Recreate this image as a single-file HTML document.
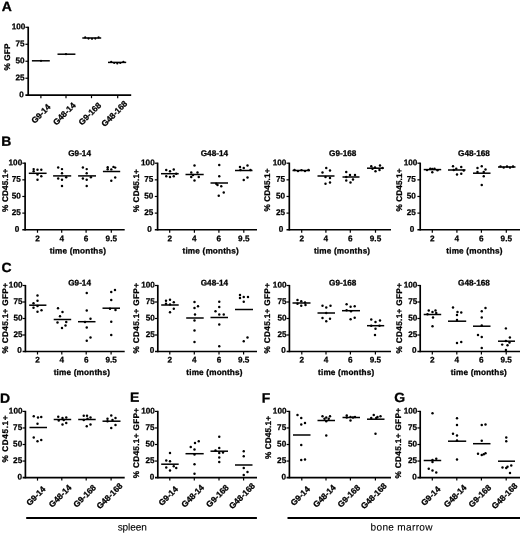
<!DOCTYPE html>
<html lang="en"><head><meta charset="utf-8"><title>Figure</title>
<style>
html,body{margin:0;padding:0;background:#fff;}
body{width:520px;height:533px;overflow:hidden;}
svg{display:block;}
text{font-family:"Liberation Sans", sans-serif;text-rendering:geometricPrecision;fill:#000;stroke:#000;stroke-width:0.3px;stroke-linejoin:round;}
.tk{font-size:8.2px;font-weight:bold;stroke-width:0.25px;}
.yl{font-size:8.2px;font-weight:bold;letter-spacing:0.12px;}
.yl3{font-size:8.2px;font-weight:bold;letter-spacing:0.6px;}
.yl2{font-size:8.2px;font-weight:bold;letter-spacing:0.34px;}
.xt{font-size:8.2px;font-weight:bold;letter-spacing:0.17px;}
.tt{font-size:8.2px;font-weight:bold;}
.xr{font-size:8.4px;font-weight:bold;}
.bt{font-size:10.1px;stroke-width:0.1px;}
.pl{font-size:13.3px;font-weight:bold;stroke-width:0.3px;}
</style></head>
<body>
<svg width="520" height="533" viewBox="0 0 520 533">
<rect width="520" height="533" fill="#fff"/>
<line x1="28.2" y1="26.7" x2="28.2" y2="95.95" stroke="#000" stroke-width="1.7"/>
<line x1="25.4" y1="95.2" x2="131.2" y2="95.2" stroke="#000" stroke-width="1.7"/>
<line x1="25.4" y1="27.30" x2="28.2" y2="27.30" stroke="#000" stroke-width="1.2"/>
<text transform="translate(25.30,29.30) rotate(0.04)" text-anchor="end" class="tk">100</text>
<line x1="25.4" y1="44.28" x2="28.2" y2="44.28" stroke="#000" stroke-width="1.2"/>
<text transform="translate(24.60,46.28) rotate(0.04)" text-anchor="end" class="tk">75</text>
<line x1="25.4" y1="61.25" x2="28.2" y2="61.25" stroke="#000" stroke-width="1.2"/>
<text transform="translate(24.60,63.25) rotate(0.04)" text-anchor="end" class="tk">50</text>
<line x1="25.4" y1="78.23" x2="28.2" y2="78.23" stroke="#000" stroke-width="1.2"/>
<text transform="translate(24.60,80.23) rotate(0.04)" text-anchor="end" class="tk">25</text>
<text transform="translate(23.90,97.20) rotate(0.04)" text-anchor="end" class="tk">0</text>
<line x1="40.9" y1="95.2" x2="40.9" y2="98.2" stroke="#000" stroke-width="1.2"/>
<line x1="66" y1="95.2" x2="66" y2="98.2" stroke="#000" stroke-width="1.2"/>
<line x1="91.5" y1="95.2" x2="91.5" y2="98.2" stroke="#000" stroke-width="1.2"/>
<line x1="117.7" y1="95.2" x2="117.7" y2="98.2" stroke="#000" stroke-width="1.2"/>
<line x1="31.9" y1="60.8" x2="49.8" y2="60.8" stroke="#000" stroke-width="1.5"/>
<circle cx="41.00" cy="60.80" r="1.1"/>
<line x1="57.5" y1="54.2" x2="75.4" y2="54.2" stroke="#000" stroke-width="1.5"/>
<circle cx="66.00" cy="54.20" r="1.1"/>
<line x1="82.3" y1="38.0" x2="101.2" y2="38.0" stroke="#000" stroke-width="1.5"/>
<circle cx="85.20" cy="37.40" r="1.1"/>
<circle cx="88.50" cy="38.60" r="1.1"/>
<circle cx="92.00" cy="38.80" r="1.1"/>
<circle cx="95.30" cy="38.60" r="1.1"/>
<circle cx="98.60" cy="37.40" r="1.1"/>
<line x1="108" y1="62.4" x2="126.2" y2="62.4" stroke="#000" stroke-width="1.5"/>
<circle cx="111.20" cy="61.80" r="1.1"/>
<circle cx="114.20" cy="63.00" r="1.1"/>
<circle cx="117.30" cy="63.50" r="1.1"/>
<circle cx="120.30" cy="63.00" r="1.1"/>
<circle cx="123.40" cy="61.80" r="1.1"/>
<text transform="translate(9.7,57.0) rotate(-90)" text-anchor="middle" class="yl">% GFP</text>
<text transform="translate(51.10,107.57) rotate(-45)" text-anchor="end" class="xr">G9-14</text>
<text transform="translate(76.20,105.92) rotate(-45)" text-anchor="end" class="xr">G48-14</text>
<text transform="translate(101.70,105.92) rotate(-45)" text-anchor="end" class="xr">G9-168</text>
<text transform="translate(127.90,104.27) rotate(-45)" text-anchor="end" class="xr">G48-168</text>
<line x1="25.1" y1="162.6" x2="25.1" y2="230.5" stroke="#000" stroke-width="1.7"/>
<line x1="22.3" y1="229.75" x2="124.7" y2="229.75" stroke="#000" stroke-width="1.7"/>
<line x1="22.3" y1="163.20" x2="25.1" y2="163.20" stroke="#000" stroke-width="1.2"/>
<text transform="translate(22.20,165.20) rotate(0.04)" text-anchor="end" class="tk">100</text>
<line x1="22.3" y1="179.84" x2="25.1" y2="179.84" stroke="#000" stroke-width="1.2"/>
<text transform="translate(20.80,181.84) rotate(0.04)" text-anchor="end" class="tk">75</text>
<line x1="22.3" y1="196.47" x2="25.1" y2="196.47" stroke="#000" stroke-width="1.2"/>
<text transform="translate(20.80,198.47) rotate(0.04)" text-anchor="end" class="tk">50</text>
<line x1="22.3" y1="213.11" x2="25.1" y2="213.11" stroke="#000" stroke-width="1.2"/>
<text transform="translate(20.80,215.11) rotate(0.04)" text-anchor="end" class="tk">25</text>
<text transform="translate(19.20,231.75) rotate(0.04)" text-anchor="end" class="tk">0</text>
<line x1="37.5" y1="229.75" x2="37.5" y2="232.75" stroke="#000" stroke-width="1.2"/>
<line x1="61.7" y1="229.75" x2="61.7" y2="232.75" stroke="#000" stroke-width="1.2"/>
<line x1="86.1" y1="229.75" x2="86.1" y2="232.75" stroke="#000" stroke-width="1.2"/>
<line x1="111.3" y1="229.75" x2="111.3" y2="232.75" stroke="#000" stroke-width="1.2"/>
<line x1="28.8" y1="173.3" x2="46.6" y2="173.3" stroke="#000" stroke-width="1.5"/>
<circle cx="33.65" cy="169.10" r="1.22"/>
<circle cx="33.65" cy="171.20" r="1.22"/>
<circle cx="37.50" cy="169.80" r="1.22"/>
<circle cx="41.30" cy="169.80" r="1.22"/>
<circle cx="37.50" cy="174.60" r="1.22"/>
<circle cx="41.30" cy="176.20" r="1.22"/>
<circle cx="37.50" cy="179.70" r="1.22"/>
<line x1="53.1" y1="175.9" x2="71.2" y2="175.9" stroke="#000" stroke-width="1.5"/>
<circle cx="58.20" cy="167.50" r="1.22"/>
<circle cx="62.00" cy="169.10" r="1.22"/>
<circle cx="62.00" cy="173.30" r="1.22"/>
<circle cx="58.20" cy="178.50" r="1.22"/>
<circle cx="62.00" cy="179.70" r="1.22"/>
<circle cx="66.20" cy="177.30" r="1.22"/>
<circle cx="62.00" cy="186.00" r="1.22"/>
<line x1="78.1" y1="175.9" x2="96" y2="175.9" stroke="#000" stroke-width="1.5"/>
<circle cx="82.90" cy="167.50" r="1.22"/>
<circle cx="86.70" cy="169.10" r="1.22"/>
<circle cx="86.70" cy="173.30" r="1.22"/>
<circle cx="82.90" cy="178.50" r="1.22"/>
<circle cx="86.70" cy="179.70" r="1.22"/>
<circle cx="90.90" cy="177.30" r="1.22"/>
<circle cx="86.70" cy="186.00" r="1.22"/>
<line x1="102.9" y1="171.5" x2="120.2" y2="171.5" stroke="#000" stroke-width="1.5"/>
<circle cx="107.70" cy="167.20" r="1.22"/>
<circle cx="107.70" cy="169.20" r="1.22"/>
<circle cx="111.30" cy="169.40" r="1.22"/>
<circle cx="113.50" cy="166.90" r="1.22"/>
<circle cx="115.20" cy="167.60" r="1.22"/>
<circle cx="115.20" cy="177.50" r="1.22"/>
<circle cx="111.30" cy="180.70" r="1.22"/>
<text transform="translate(7.6,190.3) rotate(-90)" text-anchor="middle" class="yl">% CD45.1+</text>
<text transform="translate(79.6,156) rotate(0.04)" text-anchor="middle" class="tt">G9-14</text>
<text transform="translate(37.5,241.2) rotate(0.04)" text-anchor="middle" class="tk">2</text>
<text transform="translate(61.7,241.2) rotate(0.04)" text-anchor="middle" class="tk">4</text>
<text transform="translate(86.1,241.2) rotate(0.04)" text-anchor="middle" class="tk">6</text>
<text transform="translate(111.3,241.2) rotate(0.04)" text-anchor="middle" class="tk">9.5</text>
<text transform="translate(77.9,253.6) rotate(0.04)" text-anchor="middle" class="xt">time (months)</text>
<line x1="157.6" y1="162.6" x2="157.6" y2="230.5" stroke="#000" stroke-width="1.7"/>
<line x1="154.79999999999998" y1="229.75" x2="257" y2="229.75" stroke="#000" stroke-width="1.7"/>
<line x1="154.79999999999998" y1="163.20" x2="157.6" y2="163.20" stroke="#000" stroke-width="1.2"/>
<text transform="translate(154.70,165.20) rotate(0.04)" text-anchor="end" class="tk">100</text>
<line x1="154.79999999999998" y1="179.84" x2="157.6" y2="179.84" stroke="#000" stroke-width="1.2"/>
<text transform="translate(153.30,181.84) rotate(0.04)" text-anchor="end" class="tk">75</text>
<line x1="154.79999999999998" y1="196.47" x2="157.6" y2="196.47" stroke="#000" stroke-width="1.2"/>
<text transform="translate(153.30,198.47) rotate(0.04)" text-anchor="end" class="tk">50</text>
<line x1="154.79999999999998" y1="213.11" x2="157.6" y2="213.11" stroke="#000" stroke-width="1.2"/>
<text transform="translate(153.30,215.11) rotate(0.04)" text-anchor="end" class="tk">25</text>
<text transform="translate(151.70,231.75) rotate(0.04)" text-anchor="end" class="tk">0</text>
<line x1="169.7" y1="229.75" x2="169.7" y2="232.75" stroke="#000" stroke-width="1.2"/>
<line x1="194.4" y1="229.75" x2="194.4" y2="232.75" stroke="#000" stroke-width="1.2"/>
<line x1="218.9" y1="229.75" x2="218.9" y2="232.75" stroke="#000" stroke-width="1.2"/>
<line x1="243.8" y1="229.75" x2="243.8" y2="232.75" stroke="#000" stroke-width="1.2"/>
<line x1="161" y1="173.7" x2="178.7" y2="173.7" stroke="#000" stroke-width="1.5"/>
<circle cx="166.25" cy="170.00" r="1.22"/>
<circle cx="170.00" cy="171.25" r="1.22"/>
<circle cx="173.75" cy="169.50" r="1.22"/>
<circle cx="166.25" cy="176.25" r="1.22"/>
<circle cx="170.00" cy="177.00" r="1.22"/>
<circle cx="173.75" cy="176.25" r="1.22"/>
<circle cx="176.25" cy="173.75" r="1.22"/>
<line x1="185.5" y1="174.5" x2="203.7" y2="174.5" stroke="#000" stroke-width="1.5"/>
<circle cx="194.50" cy="165.50" r="1.22"/>
<circle cx="191.25" cy="172.50" r="1.22"/>
<circle cx="197.50" cy="172.50" r="1.22"/>
<circle cx="191.25" cy="177.00" r="1.22"/>
<circle cx="198.75" cy="177.00" r="1.22"/>
<circle cx="194.50" cy="180.50" r="1.22"/>
<circle cx="193.00" cy="175.00" r="1.22"/>
<line x1="210.5" y1="183" x2="228" y2="183" stroke="#000" stroke-width="1.5"/>
<circle cx="219.25" cy="165.00" r="1.22"/>
<circle cx="219.25" cy="176.25" r="1.22"/>
<circle cx="216.25" cy="183.75" r="1.22"/>
<circle cx="221.25" cy="186.25" r="1.22"/>
<circle cx="223.75" cy="192.50" r="1.22"/>
<circle cx="218.75" cy="195.75" r="1.22"/>
<circle cx="217.50" cy="185.00" r="1.22"/>
<line x1="235" y1="170.5" x2="252.5" y2="170.5" stroke="#000" stroke-width="1.5"/>
<circle cx="240.00" cy="167.00" r="1.22"/>
<circle cx="243.75" cy="168.00" r="1.22"/>
<circle cx="247.50" cy="165.50" r="1.22"/>
<circle cx="250.50" cy="170.00" r="1.22"/>
<circle cx="243.75" cy="180.00" r="1.22"/>
<circle cx="247.50" cy="177.50" r="1.22"/>
<circle cx="240.50" cy="170.00" r="1.22"/>
<text transform="translate(139,190.6) rotate(-90)" text-anchor="middle" class="yl">% CD45.1+</text>
<text transform="translate(214.4,156) rotate(0.04)" text-anchor="middle" class="tt">G48-14</text>
<text transform="translate(169.7,241.2) rotate(0.04)" text-anchor="middle" class="tk">2</text>
<text transform="translate(194.4,241.2) rotate(0.04)" text-anchor="middle" class="tk">4</text>
<text transform="translate(218.9,241.2) rotate(0.04)" text-anchor="middle" class="tk">6</text>
<text transform="translate(243.8,241.2) rotate(0.04)" text-anchor="middle" class="tk">9.5</text>
<text transform="translate(210.7,253.6) rotate(0.04)" text-anchor="middle" class="xt">time (months)</text>
<line x1="289.3" y1="162.6" x2="289.3" y2="230.5" stroke="#000" stroke-width="1.7"/>
<line x1="286.5" y1="229.75" x2="391" y2="229.75" stroke="#000" stroke-width="1.7"/>
<line x1="286.5" y1="163.20" x2="289.3" y2="163.20" stroke="#000" stroke-width="1.2"/>
<text transform="translate(286.40,165.20) rotate(0.04)" text-anchor="end" class="tk">100</text>
<line x1="286.5" y1="179.84" x2="289.3" y2="179.84" stroke="#000" stroke-width="1.2"/>
<text transform="translate(285.00,181.84) rotate(0.04)" text-anchor="end" class="tk">75</text>
<line x1="286.5" y1="196.47" x2="289.3" y2="196.47" stroke="#000" stroke-width="1.2"/>
<text transform="translate(285.00,198.47) rotate(0.04)" text-anchor="end" class="tk">50</text>
<line x1="286.5" y1="213.11" x2="289.3" y2="213.11" stroke="#000" stroke-width="1.2"/>
<text transform="translate(285.00,215.11) rotate(0.04)" text-anchor="end" class="tk">25</text>
<text transform="translate(283.40,231.75) rotate(0.04)" text-anchor="end" class="tk">0</text>
<line x1="301.7" y1="229.75" x2="301.7" y2="232.75" stroke="#000" stroke-width="1.2"/>
<line x1="325.9" y1="229.75" x2="325.9" y2="232.75" stroke="#000" stroke-width="1.2"/>
<line x1="350.3" y1="229.75" x2="350.3" y2="232.75" stroke="#000" stroke-width="1.2"/>
<line x1="375.5" y1="229.75" x2="375.5" y2="232.75" stroke="#000" stroke-width="1.2"/>
<line x1="292.5" y1="170.5" x2="310" y2="170.5" stroke="#000" stroke-width="1.5"/>
<circle cx="294.50" cy="170.00" r="1.22"/>
<circle cx="298.00" cy="171.10" r="1.22"/>
<circle cx="301.50" cy="170.10" r="1.22"/>
<circle cx="305.00" cy="171.10" r="1.22"/>
<circle cx="308.50" cy="170.00" r="1.22"/>
<line x1="317.5" y1="176" x2="334.5" y2="176" stroke="#000" stroke-width="1.5"/>
<circle cx="326.25" cy="168.00" r="1.22"/>
<circle cx="330.00" cy="170.50" r="1.22"/>
<circle cx="322.50" cy="172.50" r="1.22"/>
<circle cx="325.50" cy="177.00" r="1.22"/>
<circle cx="330.00" cy="178.00" r="1.22"/>
<circle cx="325.50" cy="183.75" r="1.22"/>
<circle cx="330.00" cy="182.50" r="1.22"/>
<line x1="342.5" y1="177" x2="359.5" y2="177" stroke="#000" stroke-width="1.5"/>
<circle cx="346.25" cy="172.00" r="1.22"/>
<circle cx="350.00" cy="175.00" r="1.22"/>
<circle cx="355.00" cy="175.00" r="1.22"/>
<circle cx="346.25" cy="177.00" r="1.22"/>
<circle cx="353.00" cy="179.50" r="1.22"/>
<circle cx="346.25" cy="180.50" r="1.22"/>
<circle cx="350.50" cy="182.50" r="1.22"/>
<line x1="367" y1="168.2" x2="383.7" y2="168.2" stroke="#000" stroke-width="1.5"/>
<circle cx="371.25" cy="166.25" r="1.22"/>
<circle cx="375.00" cy="167.50" r="1.22"/>
<circle cx="380.00" cy="165.50" r="1.22"/>
<circle cx="382.50" cy="168.00" r="1.22"/>
<circle cx="375.50" cy="171.25" r="1.22"/>
<circle cx="379.50" cy="170.00" r="1.22"/>
<circle cx="372.50" cy="168.75" r="1.22"/>
<text transform="translate(269.8,190.0) rotate(-90)" text-anchor="middle" class="yl">% CD45.1+</text>
<text transform="translate(342.7,156) rotate(0.04)" text-anchor="middle" class="tt">G9-168</text>
<text transform="translate(301.7,241.2) rotate(0.04)" text-anchor="middle" class="tk">2</text>
<text transform="translate(325.9,241.2) rotate(0.04)" text-anchor="middle" class="tk">4</text>
<text transform="translate(350.3,241.2) rotate(0.04)" text-anchor="middle" class="tk">6</text>
<text transform="translate(375.5,241.2) rotate(0.04)" text-anchor="middle" class="tk">9.5</text>
<text transform="translate(342.1,253.6) rotate(0.04)" text-anchor="middle" class="xt">time (months)</text>
<line x1="420.2" y1="162.6" x2="420.2" y2="230.5" stroke="#000" stroke-width="1.7"/>
<line x1="417.4" y1="229.75" x2="521" y2="229.75" stroke="#000" stroke-width="1.7"/>
<line x1="417.4" y1="163.20" x2="420.2" y2="163.20" stroke="#000" stroke-width="1.2"/>
<text transform="translate(417.30,165.20) rotate(0.04)" text-anchor="end" class="tk">100</text>
<line x1="417.4" y1="179.84" x2="420.2" y2="179.84" stroke="#000" stroke-width="1.2"/>
<text transform="translate(415.90,181.84) rotate(0.04)" text-anchor="end" class="tk">75</text>
<line x1="417.4" y1="196.47" x2="420.2" y2="196.47" stroke="#000" stroke-width="1.2"/>
<text transform="translate(415.90,198.47) rotate(0.04)" text-anchor="end" class="tk">50</text>
<line x1="417.4" y1="213.11" x2="420.2" y2="213.11" stroke="#000" stroke-width="1.2"/>
<text transform="translate(415.90,215.11) rotate(0.04)" text-anchor="end" class="tk">25</text>
<text transform="translate(414.30,231.75) rotate(0.04)" text-anchor="end" class="tk">0</text>
<line x1="432.3" y1="229.75" x2="432.3" y2="232.75" stroke="#000" stroke-width="1.2"/>
<line x1="456.9" y1="229.75" x2="456.9" y2="232.75" stroke="#000" stroke-width="1.2"/>
<line x1="481.4" y1="229.75" x2="481.4" y2="232.75" stroke="#000" stroke-width="1.2"/>
<line x1="506.3" y1="229.75" x2="506.3" y2="232.75" stroke="#000" stroke-width="1.2"/>
<line x1="423.7" y1="169.6" x2="441.2" y2="169.6" stroke="#000" stroke-width="1.5"/>
<circle cx="427.00" cy="170.10" r="1.22"/>
<circle cx="430.30" cy="168.60" r="1.22"/>
<circle cx="432.30" cy="172.30" r="1.22"/>
<circle cx="434.50" cy="168.80" r="1.22"/>
<circle cx="437.50" cy="170.30" r="1.22"/>
<circle cx="432.30" cy="168.90" r="1.22"/>
<line x1="448" y1="170" x2="465.5" y2="170" stroke="#000" stroke-width="1.5"/>
<circle cx="453.00" cy="166.25" r="1.22"/>
<circle cx="456.25" cy="168.75" r="1.22"/>
<circle cx="461.25" cy="167.00" r="1.22"/>
<circle cx="453.75" cy="170.00" r="1.22"/>
<circle cx="463.75" cy="170.50" r="1.22"/>
<circle cx="457.00" cy="174.50" r="1.22"/>
<circle cx="461.25" cy="173.75" r="1.22"/>
<line x1="473" y1="173.2" x2="490.5" y2="173.2" stroke="#000" stroke-width="1.5"/>
<circle cx="477.50" cy="168.00" r="1.22"/>
<circle cx="481.75" cy="166.25" r="1.22"/>
<circle cx="485.50" cy="169.50" r="1.22"/>
<circle cx="477.50" cy="172.00" r="1.22"/>
<circle cx="483.75" cy="172.00" r="1.22"/>
<circle cx="483.75" cy="176.25" r="1.22"/>
<circle cx="481.75" cy="185.00" r="1.22"/>
<line x1="498" y1="167" x2="515.5" y2="167" stroke="#000" stroke-width="1.5"/>
<circle cx="500.50" cy="166.40" r="1.22"/>
<circle cx="503.70" cy="167.60" r="1.22"/>
<circle cx="507.00" cy="166.50" r="1.22"/>
<circle cx="510.00" cy="167.60" r="1.22"/>
<circle cx="513.00" cy="166.50" r="1.22"/>
<text transform="translate(402.3,190.0) rotate(-90)" text-anchor="middle" class="yl">% CD45.1+</text>
<text transform="translate(474,156) rotate(0.04)" text-anchor="middle" class="tt">G48-168</text>
<text transform="translate(432.3,241.2) rotate(0.04)" text-anchor="middle" class="tk">2</text>
<text transform="translate(456.9,241.2) rotate(0.04)" text-anchor="middle" class="tk">4</text>
<text transform="translate(481.4,241.2) rotate(0.04)" text-anchor="middle" class="tk">6</text>
<text transform="translate(506.3,241.2) rotate(0.04)" text-anchor="middle" class="tk">9.5</text>
<text transform="translate(474.5,253.6) rotate(0.04)" text-anchor="middle" class="xt">time (months)</text>
<line x1="25.4" y1="284.9" x2="25.4" y2="352.25" stroke="#000" stroke-width="1.7"/>
<line x1="22.599999999999998" y1="351.5" x2="124.7" y2="351.5" stroke="#000" stroke-width="1.7"/>
<line x1="22.599999999999998" y1="285.50" x2="25.4" y2="285.50" stroke="#000" stroke-width="1.2"/>
<text transform="translate(22.50,287.50) rotate(0.04)" text-anchor="end" class="tk">100</text>
<line x1="22.599999999999998" y1="302.00" x2="25.4" y2="302.00" stroke="#000" stroke-width="1.2"/>
<text transform="translate(22.50,304.00) rotate(0.04)" text-anchor="end" class="tk">75</text>
<line x1="22.599999999999998" y1="318.50" x2="25.4" y2="318.50" stroke="#000" stroke-width="1.2"/>
<text transform="translate(22.50,320.50) rotate(0.04)" text-anchor="end" class="tk">50</text>
<line x1="22.599999999999998" y1="335.00" x2="25.4" y2="335.00" stroke="#000" stroke-width="1.2"/>
<text transform="translate(22.50,337.00) rotate(0.04)" text-anchor="end" class="tk">25</text>
<text transform="translate(21.80,352.80) rotate(0.04)" text-anchor="end" class="tk">0</text>
<line x1="37.5" y1="351.5" x2="37.5" y2="354.5" stroke="#000" stroke-width="1.2"/>
<line x1="61.8" y1="351.5" x2="61.8" y2="354.5" stroke="#000" stroke-width="1.2"/>
<line x1="86.2" y1="351.5" x2="86.2" y2="354.5" stroke="#000" stroke-width="1.2"/>
<line x1="111.1" y1="351.5" x2="111.1" y2="354.5" stroke="#000" stroke-width="1.2"/>
<line x1="29.2" y1="305.2" x2="46.4" y2="305.2" stroke="#000" stroke-width="1.5"/>
<circle cx="37.50" cy="295.50" r="1.22"/>
<circle cx="37.50" cy="300.80" r="1.22"/>
<circle cx="33.50" cy="303.20" r="1.22"/>
<circle cx="33.50" cy="307.80" r="1.22"/>
<circle cx="37.50" cy="306.00" r="1.22"/>
<circle cx="41.50" cy="310.20" r="1.22"/>
<circle cx="37.50" cy="311.80" r="1.22"/>
<line x1="53.7" y1="319.5" x2="71.2" y2="319.5" stroke="#000" stroke-width="1.5"/>
<circle cx="58.00" cy="308.25" r="1.22"/>
<circle cx="62.50" cy="312.00" r="1.22"/>
<circle cx="60.00" cy="316.25" r="1.22"/>
<circle cx="57.50" cy="322.50" r="1.22"/>
<circle cx="66.25" cy="322.00" r="1.22"/>
<circle cx="65.50" cy="325.50" r="1.22"/>
<circle cx="62.00" cy="328.00" r="1.22"/>
<line x1="78" y1="321.7" x2="95.5" y2="321.7" stroke="#000" stroke-width="1.5"/>
<circle cx="86.75" cy="293.00" r="1.22"/>
<circle cx="86.75" cy="310.50" r="1.22"/>
<circle cx="90.50" cy="318.75" r="1.22"/>
<circle cx="86.75" cy="327.50" r="1.22"/>
<circle cx="90.50" cy="337.50" r="1.22"/>
<circle cx="86.75" cy="340.75" r="1.22"/>
<circle cx="85.00" cy="322.00" r="1.22"/>
<line x1="102.5" y1="308.2" x2="120" y2="308.2" stroke="#000" stroke-width="1.5"/>
<circle cx="111.25" cy="292.00" r="1.22"/>
<circle cx="115.00" cy="290.00" r="1.22"/>
<circle cx="111.25" cy="300.00" r="1.22"/>
<circle cx="115.50" cy="310.00" r="1.22"/>
<circle cx="111.25" cy="321.75" r="1.22"/>
<circle cx="111.25" cy="335.00" r="1.22"/>
<circle cx="110.00" cy="308.75" r="1.22"/>
<text transform="translate(7.6,318.1) rotate(-90)" text-anchor="middle" class="yl2">% CD45.1+ GFP+</text>
<text transform="translate(79.6,285.6) rotate(0.04)" text-anchor="middle" class="tt">G9-14</text>
<text transform="translate(37.5,362.4) rotate(0.04)" text-anchor="middle" class="tk">2</text>
<text transform="translate(61.8,362.4) rotate(0.04)" text-anchor="middle" class="tk">4</text>
<text transform="translate(86.2,362.4) rotate(0.04)" text-anchor="middle" class="tk">6</text>
<text transform="translate(111.1,362.4) rotate(0.04)" text-anchor="middle" class="tk">9.5</text>
<text transform="translate(81.9,375.1) rotate(0.04)" text-anchor="middle" class="xt">time (months)</text>
<line x1="157.8" y1="284.9" x2="157.8" y2="352.25" stroke="#000" stroke-width="1.7"/>
<line x1="155.0" y1="351.5" x2="257" y2="351.5" stroke="#000" stroke-width="1.7"/>
<line x1="155.0" y1="285.50" x2="157.8" y2="285.50" stroke="#000" stroke-width="1.2"/>
<text transform="translate(154.90,287.50) rotate(0.04)" text-anchor="end" class="tk">100</text>
<line x1="155.0" y1="302.00" x2="157.8" y2="302.00" stroke="#000" stroke-width="1.2"/>
<text transform="translate(154.90,304.00) rotate(0.04)" text-anchor="end" class="tk">75</text>
<line x1="155.0" y1="318.50" x2="157.8" y2="318.50" stroke="#000" stroke-width="1.2"/>
<text transform="translate(154.90,320.50) rotate(0.04)" text-anchor="end" class="tk">50</text>
<line x1="155.0" y1="335.00" x2="157.8" y2="335.00" stroke="#000" stroke-width="1.2"/>
<text transform="translate(154.90,337.00) rotate(0.04)" text-anchor="end" class="tk">25</text>
<text transform="translate(154.20,352.80) rotate(0.04)" text-anchor="end" class="tk">0</text>
<line x1="169.8" y1="351.5" x2="169.8" y2="354.5" stroke="#000" stroke-width="1.2"/>
<line x1="194.3" y1="351.5" x2="194.3" y2="354.5" stroke="#000" stroke-width="1.2"/>
<line x1="219.0" y1="351.5" x2="219.0" y2="354.5" stroke="#000" stroke-width="1.2"/>
<line x1="243.6" y1="351.5" x2="243.6" y2="354.5" stroke="#000" stroke-width="1.2"/>
<line x1="161.2" y1="305" x2="178.7" y2="305" stroke="#000" stroke-width="1.5"/>
<circle cx="166.00" cy="300.80" r="1.22"/>
<circle cx="170.00" cy="299.80" r="1.22"/>
<circle cx="173.80" cy="302.30" r="1.22"/>
<circle cx="166.00" cy="303.80" r="1.22"/>
<circle cx="170.00" cy="304.40" r="1.22"/>
<circle cx="173.80" cy="308.80" r="1.22"/>
<circle cx="170.00" cy="312.30" r="1.22"/>
<line x1="186.2" y1="318" x2="203.7" y2="318" stroke="#000" stroke-width="1.5"/>
<circle cx="194.50" cy="302.00" r="1.22"/>
<circle cx="198.00" cy="306.25" r="1.22"/>
<circle cx="194.50" cy="308.00" r="1.22"/>
<circle cx="195.00" cy="314.50" r="1.22"/>
<circle cx="194.50" cy="320.50" r="1.22"/>
<circle cx="194.50" cy="330.50" r="1.22"/>
<circle cx="194.50" cy="342.00" r="1.22"/>
<line x1="210.5" y1="317.5" x2="228" y2="317.5" stroke="#000" stroke-width="1.5"/>
<circle cx="219.25" cy="301.75" r="1.22"/>
<circle cx="219.25" cy="307.00" r="1.22"/>
<circle cx="215.50" cy="311.25" r="1.22"/>
<circle cx="219.25" cy="314.50" r="1.22"/>
<circle cx="223.75" cy="314.50" r="1.22"/>
<circle cx="219.25" cy="324.50" r="1.22"/>
<circle cx="219.25" cy="346.25" r="1.22"/>
<line x1="235" y1="309.5" x2="253" y2="309.5" stroke="#000" stroke-width="1.5"/>
<circle cx="240.00" cy="295.00" r="1.22"/>
<circle cx="243.75" cy="297.00" r="1.22"/>
<circle cx="248.00" cy="297.00" r="1.22"/>
<circle cx="240.00" cy="298.00" r="1.22"/>
<circle cx="243.75" cy="301.75" r="1.22"/>
<circle cx="243.75" cy="341.25" r="1.22"/>
<circle cx="247.50" cy="337.50" r="1.22"/>
<text transform="translate(139,318.1) rotate(-90)" text-anchor="middle" class="yl2">% CD45.1+ GFP+</text>
<text transform="translate(214.4,285.6) rotate(0.04)" text-anchor="middle" class="tt">G48-14</text>
<text transform="translate(169.8,362.4) rotate(0.04)" text-anchor="middle" class="tk">2</text>
<text transform="translate(194.3,362.4) rotate(0.04)" text-anchor="middle" class="tk">4</text>
<text transform="translate(219.0,362.4) rotate(0.04)" text-anchor="middle" class="tk">6</text>
<text transform="translate(243.6,362.4) rotate(0.04)" text-anchor="middle" class="tk">9.5</text>
<text transform="translate(214.5,375.1) rotate(0.04)" text-anchor="middle" class="xt">time (months)</text>
<line x1="289.4" y1="284.9" x2="289.4" y2="352.25" stroke="#000" stroke-width="1.7"/>
<line x1="286.59999999999997" y1="351.5" x2="391" y2="351.5" stroke="#000" stroke-width="1.7"/>
<line x1="286.59999999999997" y1="285.50" x2="289.4" y2="285.50" stroke="#000" stroke-width="1.2"/>
<text transform="translate(286.50,287.50) rotate(0.04)" text-anchor="end" class="tk">100</text>
<line x1="286.59999999999997" y1="302.00" x2="289.4" y2="302.00" stroke="#000" stroke-width="1.2"/>
<text transform="translate(286.50,304.00) rotate(0.04)" text-anchor="end" class="tk">75</text>
<line x1="286.59999999999997" y1="318.50" x2="289.4" y2="318.50" stroke="#000" stroke-width="1.2"/>
<text transform="translate(286.50,320.50) rotate(0.04)" text-anchor="end" class="tk">50</text>
<line x1="286.59999999999997" y1="335.00" x2="289.4" y2="335.00" stroke="#000" stroke-width="1.2"/>
<text transform="translate(286.50,337.00) rotate(0.04)" text-anchor="end" class="tk">25</text>
<text transform="translate(285.80,352.80) rotate(0.04)" text-anchor="end" class="tk">0</text>
<line x1="301.8" y1="351.5" x2="301.8" y2="354.5" stroke="#000" stroke-width="1.2"/>
<line x1="326.0" y1="351.5" x2="326.0" y2="354.5" stroke="#000" stroke-width="1.2"/>
<line x1="350.4" y1="351.5" x2="350.4" y2="354.5" stroke="#000" stroke-width="1.2"/>
<line x1="375.4" y1="351.5" x2="375.4" y2="354.5" stroke="#000" stroke-width="1.2"/>
<line x1="292.5" y1="303" x2="310.5" y2="303" stroke="#000" stroke-width="1.5"/>
<circle cx="297.50" cy="300.00" r="1.22"/>
<circle cx="301.25" cy="301.25" r="1.22"/>
<circle cx="305.00" cy="302.50" r="1.22"/>
<circle cx="297.50" cy="303.75" r="1.22"/>
<circle cx="301.25" cy="305.75" r="1.22"/>
<circle cx="305.50" cy="305.00" r="1.22"/>
<line x1="317.5" y1="313" x2="335" y2="313" stroke="#000" stroke-width="1.5"/>
<circle cx="322.50" cy="305.75" r="1.22"/>
<circle cx="326.25" cy="307.50" r="1.22"/>
<circle cx="330.50" cy="305.75" r="1.22"/>
<circle cx="326.25" cy="313.00" r="1.22"/>
<circle cx="322.50" cy="318.00" r="1.22"/>
<circle cx="330.00" cy="318.75" r="1.22"/>
<circle cx="326.25" cy="321.25" r="1.22"/>
<line x1="342" y1="310.7" x2="360" y2="310.7" stroke="#000" stroke-width="1.5"/>
<circle cx="346.60" cy="304.20" r="1.22"/>
<circle cx="350.60" cy="306.80" r="1.22"/>
<circle cx="354.70" cy="306.20" r="1.22"/>
<circle cx="346.60" cy="310.30" r="1.22"/>
<circle cx="351.00" cy="311.30" r="1.22"/>
<circle cx="354.70" cy="317.70" r="1.22"/>
<circle cx="350.60" cy="319.30" r="1.22"/>
<line x1="367" y1="325.7" x2="384.2" y2="325.7" stroke="#000" stroke-width="1.5"/>
<circle cx="371.25" cy="319.50" r="1.22"/>
<circle cx="375.50" cy="322.00" r="1.22"/>
<circle cx="380.00" cy="320.50" r="1.22"/>
<circle cx="371.25" cy="325.75" r="1.22"/>
<circle cx="379.50" cy="325.75" r="1.22"/>
<circle cx="375.50" cy="328.75" r="1.22"/>
<circle cx="375.00" cy="335.00" r="1.22"/>
<text transform="translate(270.1,318.1) rotate(-90)" text-anchor="middle" class="yl2">% CD45.1+ GFP+</text>
<text transform="translate(342.7,285.6) rotate(0.04)" text-anchor="middle" class="tt">G9-168</text>
<text transform="translate(301.8,362.4) rotate(0.04)" text-anchor="middle" class="tk">2</text>
<text transform="translate(326.0,362.4) rotate(0.04)" text-anchor="middle" class="tk">4</text>
<text transform="translate(350.4,362.4) rotate(0.04)" text-anchor="middle" class="tk">6</text>
<text transform="translate(375.4,362.4) rotate(0.04)" text-anchor="middle" class="tk">9.5</text>
<text transform="translate(346.25,375.1) rotate(0.04)" text-anchor="middle" class="xt">time (months)</text>
<line x1="420.2" y1="284.9" x2="420.2" y2="352.25" stroke="#000" stroke-width="1.7"/>
<line x1="417.4" y1="351.5" x2="521" y2="351.5" stroke="#000" stroke-width="1.7"/>
<line x1="417.4" y1="285.50" x2="420.2" y2="285.50" stroke="#000" stroke-width="1.2"/>
<text transform="translate(417.30,287.50) rotate(0.04)" text-anchor="end" class="tk">100</text>
<line x1="417.4" y1="302.00" x2="420.2" y2="302.00" stroke="#000" stroke-width="1.2"/>
<text transform="translate(417.30,304.00) rotate(0.04)" text-anchor="end" class="tk">75</text>
<line x1="417.4" y1="318.50" x2="420.2" y2="318.50" stroke="#000" stroke-width="1.2"/>
<text transform="translate(417.30,320.50) rotate(0.04)" text-anchor="end" class="tk">50</text>
<line x1="417.4" y1="335.00" x2="420.2" y2="335.00" stroke="#000" stroke-width="1.2"/>
<text transform="translate(417.30,337.00) rotate(0.04)" text-anchor="end" class="tk">25</text>
<text transform="translate(416.60,352.80) rotate(0.04)" text-anchor="end" class="tk">0</text>
<line x1="432.3" y1="351.5" x2="432.3" y2="354.5" stroke="#000" stroke-width="1.2"/>
<line x1="456.8" y1="351.5" x2="456.8" y2="354.5" stroke="#000" stroke-width="1.2"/>
<line x1="481.4" y1="351.5" x2="481.4" y2="354.5" stroke="#000" stroke-width="1.2"/>
<line x1="506.2" y1="351.5" x2="506.2" y2="354.5" stroke="#000" stroke-width="1.2"/>
<line x1="423.7" y1="314.5" x2="441.2" y2="314.5" stroke="#000" stroke-width="1.5"/>
<circle cx="428.75" cy="310.50" r="1.22"/>
<circle cx="432.50" cy="312.00" r="1.22"/>
<circle cx="435.50" cy="310.50" r="1.22"/>
<circle cx="427.50" cy="314.25" r="1.22"/>
<circle cx="436.25" cy="313.00" r="1.22"/>
<circle cx="433.00" cy="317.50" r="1.22"/>
<circle cx="432.50" cy="326.25" r="1.22"/>
<line x1="448" y1="321.2" x2="466.2" y2="321.2" stroke="#000" stroke-width="1.5"/>
<circle cx="453.00" cy="307.50" r="1.22"/>
<circle cx="457.50" cy="312.00" r="1.22"/>
<circle cx="461.25" cy="312.50" r="1.22"/>
<circle cx="457.00" cy="315.00" r="1.22"/>
<circle cx="457.00" cy="320.00" r="1.22"/>
<circle cx="457.00" cy="343.00" r="1.22"/>
<circle cx="461.25" cy="342.00" r="1.22"/>
<line x1="473" y1="326.2" x2="490.5" y2="326.2" stroke="#000" stroke-width="1.5"/>
<circle cx="481.75" cy="311.25" r="1.22"/>
<circle cx="485.50" cy="308.00" r="1.22"/>
<circle cx="481.75" cy="317.50" r="1.22"/>
<circle cx="481.75" cy="325.50" r="1.22"/>
<circle cx="478.00" cy="335.00" r="1.22"/>
<circle cx="481.75" cy="337.00" r="1.22"/>
<circle cx="481.75" cy="348.00" r="1.22"/>
<line x1="498" y1="341.2" x2="515" y2="341.2" stroke="#000" stroke-width="1.5"/>
<circle cx="505.90" cy="328.40" r="1.22"/>
<circle cx="509.90" cy="337.50" r="1.22"/>
<circle cx="505.90" cy="341.00" r="1.22"/>
<circle cx="502.20" cy="344.60" r="1.22"/>
<circle cx="507.50" cy="345.20" r="1.22"/>
<circle cx="505.90" cy="350.00" r="1.22"/>
<circle cx="509.50" cy="342.60" r="1.22"/>
<text transform="translate(402,318.1) rotate(-90)" text-anchor="middle" class="yl2">% CD45.1+ GFP+</text>
<text transform="translate(474,285.6) rotate(0.04)" text-anchor="middle" class="tt">G48-168</text>
<text transform="translate(432.3,362.4) rotate(0.04)" text-anchor="middle" class="tk">2</text>
<text transform="translate(456.8,362.4) rotate(0.04)" text-anchor="middle" class="tk">4</text>
<text transform="translate(481.4,362.4) rotate(0.04)" text-anchor="middle" class="tk">6</text>
<text transform="translate(506.2,362.4) rotate(0.04)" text-anchor="middle" class="tk">9.5</text>
<text transform="translate(478.85,375.1) rotate(0.04)" text-anchor="middle" class="xt">time (months)</text>
<line x1="25.4" y1="410.79999999999995" x2="25.4" y2="478.35" stroke="#000" stroke-width="1.7"/>
<line x1="22.599999999999998" y1="477.6" x2="124.7" y2="477.6" stroke="#000" stroke-width="1.7"/>
<line x1="22.599999999999998" y1="411.40" x2="25.4" y2="411.40" stroke="#000" stroke-width="1.2"/>
<text transform="translate(22.50,413.40) rotate(0.04)" text-anchor="end" class="tk">100</text>
<line x1="22.599999999999998" y1="427.95" x2="25.4" y2="427.95" stroke="#000" stroke-width="1.2"/>
<text transform="translate(22.20,429.95) rotate(0.04)" text-anchor="end" class="tk">75</text>
<line x1="22.599999999999998" y1="444.50" x2="25.4" y2="444.50" stroke="#000" stroke-width="1.2"/>
<text transform="translate(22.20,446.50) rotate(0.04)" text-anchor="end" class="tk">50</text>
<line x1="22.599999999999998" y1="461.05" x2="25.4" y2="461.05" stroke="#000" stroke-width="1.2"/>
<text transform="translate(22.20,463.05) rotate(0.04)" text-anchor="end" class="tk">25</text>
<text transform="translate(22.00,479.60) rotate(0.04)" text-anchor="end" class="tk">0</text>
<line x1="37.5" y1="477.6" x2="37.5" y2="480.6" stroke="#000" stroke-width="1.2"/>
<line x1="61.8" y1="477.6" x2="61.8" y2="480.6" stroke="#000" stroke-width="1.2"/>
<line x1="86.2" y1="477.6" x2="86.2" y2="480.6" stroke="#000" stroke-width="1.2"/>
<line x1="111.1" y1="477.6" x2="111.1" y2="480.6" stroke="#000" stroke-width="1.2"/>
<line x1="29.5" y1="427.5" x2="47" y2="427.5" stroke="#000" stroke-width="1.5"/>
<circle cx="33.75" cy="416.25" r="1.22"/>
<circle cx="38.00" cy="417.50" r="1.22"/>
<circle cx="41.25" cy="417.00" r="1.22"/>
<circle cx="37.50" cy="423.75" r="1.22"/>
<circle cx="33.75" cy="437.50" r="1.22"/>
<circle cx="41.25" cy="440.00" r="1.22"/>
<circle cx="37.50" cy="441.25" r="1.22"/>
<line x1="53.7" y1="419.5" x2="71.2" y2="419.5" stroke="#000" stroke-width="1.5"/>
<circle cx="58.25" cy="416.75" r="1.22"/>
<circle cx="62.50" cy="418.00" r="1.22"/>
<circle cx="66.25" cy="417.50" r="1.22"/>
<circle cx="58.75" cy="420.50" r="1.22"/>
<circle cx="66.25" cy="423.00" r="1.22"/>
<circle cx="62.50" cy="424.50" r="1.22"/>
<circle cx="63.75" cy="420.00" r="1.22"/>
<line x1="78.2" y1="419.5" x2="95.7" y2="419.5" stroke="#000" stroke-width="1.5"/>
<circle cx="83.75" cy="415.75" r="1.22"/>
<circle cx="87.00" cy="415.75" r="1.22"/>
<circle cx="90.50" cy="417.50" r="1.22"/>
<circle cx="83.75" cy="420.00" r="1.22"/>
<circle cx="90.50" cy="424.50" r="1.22"/>
<circle cx="86.75" cy="426.25" r="1.22"/>
<circle cx="87.50" cy="418.75" r="1.22"/>
<line x1="102.5" y1="421.2" x2="120.5" y2="421.2" stroke="#000" stroke-width="1.5"/>
<circle cx="107.50" cy="418.75" r="1.22"/>
<circle cx="111.25" cy="415.50" r="1.22"/>
<circle cx="115.50" cy="418.00" r="1.22"/>
<circle cx="107.50" cy="421.25" r="1.22"/>
<circle cx="115.50" cy="425.00" r="1.22"/>
<circle cx="111.25" cy="428.00" r="1.22"/>
<circle cx="112.50" cy="420.00" r="1.22"/>
<text transform="translate(7.6,438.7) rotate(-90)" text-anchor="middle" class="yl3">% CD45.1+</text>
<text transform="translate(35.80,495.90) rotate(-45)" y="3.01" text-anchor="middle" class="xr">G9-14</text>
<text transform="translate(60.10,495.90) rotate(-45)" y="3.01" text-anchor="middle" class="xr">G48-14</text>
<text transform="translate(84.50,495.90) rotate(-45)" y="3.01" text-anchor="middle" class="xr">G9-168</text>
<text transform="translate(109.40,495.90) rotate(-45)" y="3.01" text-anchor="middle" class="xr">G48-168</text>
<line x1="157.8" y1="410.79999999999995" x2="157.8" y2="478.35" stroke="#000" stroke-width="1.7"/>
<line x1="155.0" y1="477.6" x2="257" y2="477.6" stroke="#000" stroke-width="1.7"/>
<line x1="155.0" y1="411.40" x2="157.8" y2="411.40" stroke="#000" stroke-width="1.2"/>
<text transform="translate(154.90,413.40) rotate(0.04)" text-anchor="end" class="tk">100</text>
<line x1="155.0" y1="427.95" x2="157.8" y2="427.95" stroke="#000" stroke-width="1.2"/>
<text transform="translate(154.60,429.95) rotate(0.04)" text-anchor="end" class="tk">75</text>
<line x1="155.0" y1="444.50" x2="157.8" y2="444.50" stroke="#000" stroke-width="1.2"/>
<text transform="translate(154.60,446.50) rotate(0.04)" text-anchor="end" class="tk">50</text>
<line x1="155.0" y1="461.05" x2="157.8" y2="461.05" stroke="#000" stroke-width="1.2"/>
<text transform="translate(154.60,463.05) rotate(0.04)" text-anchor="end" class="tk">25</text>
<text transform="translate(154.40,479.60) rotate(0.04)" text-anchor="end" class="tk">0</text>
<line x1="169.8" y1="477.6" x2="169.8" y2="480.6" stroke="#000" stroke-width="1.2"/>
<line x1="194.3" y1="477.6" x2="194.3" y2="480.6" stroke="#000" stroke-width="1.2"/>
<line x1="219.0" y1="477.6" x2="219.0" y2="480.6" stroke="#000" stroke-width="1.2"/>
<line x1="243.6" y1="477.6" x2="243.6" y2="480.6" stroke="#000" stroke-width="1.2"/>
<line x1="161.2" y1="464.2" x2="178.7" y2="464.2" stroke="#000" stroke-width="1.5"/>
<circle cx="170.00" cy="453.00" r="1.22"/>
<circle cx="166.25" cy="460.50" r="1.22"/>
<circle cx="170.00" cy="461.25" r="1.22"/>
<circle cx="166.25" cy="467.50" r="1.22"/>
<circle cx="173.75" cy="466.25" r="1.22"/>
<circle cx="176.25" cy="468.00" r="1.22"/>
<circle cx="170.00" cy="470.50" r="1.22"/>
<line x1="185.5" y1="453.7" x2="203.7" y2="453.7" stroke="#000" stroke-width="1.5"/>
<circle cx="198.75" cy="441.25" r="1.22"/>
<circle cx="195.00" cy="443.00" r="1.22"/>
<circle cx="190.75" cy="447.00" r="1.22"/>
<circle cx="194.50" cy="449.50" r="1.22"/>
<circle cx="194.50" cy="454.50" r="1.22"/>
<circle cx="194.50" cy="464.25" r="1.22"/>
<circle cx="194.50" cy="473.75" r="1.22"/>
<line x1="210.5" y1="451.2" x2="228" y2="451.2" stroke="#000" stroke-width="1.5"/>
<circle cx="219.25" cy="436.75" r="1.22"/>
<circle cx="219.25" cy="448.00" r="1.22"/>
<circle cx="215.50" cy="450.50" r="1.22"/>
<circle cx="223.00" cy="452.50" r="1.22"/>
<circle cx="219.25" cy="453.00" r="1.22"/>
<circle cx="219.25" cy="457.50" r="1.22"/>
<circle cx="219.25" cy="462.00" r="1.22"/>
<line x1="235" y1="465" x2="252.5" y2="465" stroke="#000" stroke-width="1.5"/>
<circle cx="243.75" cy="451.25" r="1.22"/>
<circle cx="243.75" cy="456.25" r="1.22"/>
<circle cx="243.75" cy="468.00" r="1.22"/>
<circle cx="247.50" cy="472.00" r="1.22"/>
<circle cx="243.75" cy="475.00" r="1.22"/>
<text transform="translate(139.2,442.9) rotate(-90)" text-anchor="middle" class="yl2">% CD45.1+ GFP+</text>
<text transform="translate(168.10,495.90) rotate(-45)" y="3.01" text-anchor="middle" class="xr">G9-14</text>
<text transform="translate(192.60,495.90) rotate(-45)" y="3.01" text-anchor="middle" class="xr">G48-14</text>
<text transform="translate(217.30,495.90) rotate(-45)" y="3.01" text-anchor="middle" class="xr">G9-168</text>
<text transform="translate(241.90,495.90) rotate(-45)" y="3.01" text-anchor="middle" class="xr">G48-168</text>
<line x1="289.4" y1="410.79999999999995" x2="289.4" y2="478.35" stroke="#000" stroke-width="1.7"/>
<line x1="286.59999999999997" y1="477.6" x2="391" y2="477.6" stroke="#000" stroke-width="1.7"/>
<line x1="286.59999999999997" y1="411.40" x2="289.4" y2="411.40" stroke="#000" stroke-width="1.2"/>
<text transform="translate(286.50,413.40) rotate(0.04)" text-anchor="end" class="tk">100</text>
<line x1="286.59999999999997" y1="427.95" x2="289.4" y2="427.95" stroke="#000" stroke-width="1.2"/>
<text transform="translate(286.20,429.95) rotate(0.04)" text-anchor="end" class="tk">75</text>
<line x1="286.59999999999997" y1="444.50" x2="289.4" y2="444.50" stroke="#000" stroke-width="1.2"/>
<text transform="translate(286.20,446.50) rotate(0.04)" text-anchor="end" class="tk">50</text>
<line x1="286.59999999999997" y1="461.05" x2="289.4" y2="461.05" stroke="#000" stroke-width="1.2"/>
<text transform="translate(286.20,463.05) rotate(0.04)" text-anchor="end" class="tk">25</text>
<text transform="translate(286.00,479.60) rotate(0.04)" text-anchor="end" class="tk">0</text>
<line x1="301.8" y1="477.6" x2="301.8" y2="480.6" stroke="#000" stroke-width="1.2"/>
<line x1="326.0" y1="477.6" x2="326.0" y2="480.6" stroke="#000" stroke-width="1.2"/>
<line x1="350.4" y1="477.6" x2="350.4" y2="480.6" stroke="#000" stroke-width="1.2"/>
<line x1="375.4" y1="477.6" x2="375.4" y2="480.6" stroke="#000" stroke-width="1.2"/>
<line x1="293" y1="435" x2="310.5" y2="435" stroke="#000" stroke-width="1.5"/>
<circle cx="297.50" cy="415.00" r="1.22"/>
<circle cx="301.25" cy="418.00" r="1.22"/>
<circle cx="305.00" cy="423.00" r="1.22"/>
<circle cx="301.25" cy="424.50" r="1.22"/>
<circle cx="301.25" cy="445.00" r="1.22"/>
<circle cx="301.25" cy="460.00" r="1.22"/>
<circle cx="305.00" cy="459.50" r="1.22"/>
<line x1="317.5" y1="420.5" x2="335" y2="420.5" stroke="#000" stroke-width="1.5"/>
<circle cx="322.50" cy="416.25" r="1.22"/>
<circle cx="326.25" cy="417.50" r="1.22"/>
<circle cx="330.00" cy="416.25" r="1.22"/>
<circle cx="326.25" cy="421.25" r="1.22"/>
<circle cx="326.25" cy="435.50" r="1.22"/>
<circle cx="324.50" cy="418.75" r="1.22"/>
<circle cx="328.75" cy="418.75" r="1.22"/>
<line x1="342.5" y1="417.5" x2="360" y2="417.5" stroke="#000" stroke-width="1.5"/>
<circle cx="346.75" cy="415.50" r="1.22"/>
<circle cx="350.50" cy="417.00" r="1.22"/>
<circle cx="355.00" cy="417.00" r="1.22"/>
<circle cx="350.50" cy="420.50" r="1.22"/>
<circle cx="346.75" cy="417.50" r="1.22"/>
<circle cx="353.00" cy="417.50" r="1.22"/>
<line x1="367" y1="419.2" x2="384.5" y2="419.2" stroke="#000" stroke-width="1.5"/>
<circle cx="373.75" cy="415.00" r="1.22"/>
<circle cx="377.50" cy="417.00" r="1.22"/>
<circle cx="380.50" cy="416.25" r="1.22"/>
<circle cx="371.25" cy="418.00" r="1.22"/>
<circle cx="375.50" cy="433.75" r="1.22"/>
<circle cx="376.25" cy="418.00" r="1.22"/>
<text transform="translate(270.7,437.5) rotate(-90)" text-anchor="middle" class="yl">% CD45.1+</text>
<text transform="translate(300.10,495.90) rotate(-45)" y="3.01" text-anchor="middle" class="xr">G9-14</text>
<text transform="translate(324.30,495.90) rotate(-45)" y="3.01" text-anchor="middle" class="xr">G48-14</text>
<text transform="translate(348.70,495.90) rotate(-45)" y="3.01" text-anchor="middle" class="xr">G9-168</text>
<text transform="translate(373.70,495.90) rotate(-45)" y="3.01" text-anchor="middle" class="xr">G48-168</text>
<line x1="420.2" y1="410.79999999999995" x2="420.2" y2="478.35" stroke="#000" stroke-width="1.7"/>
<line x1="417.4" y1="477.6" x2="521" y2="477.6" stroke="#000" stroke-width="1.7"/>
<line x1="417.4" y1="411.40" x2="420.2" y2="411.40" stroke="#000" stroke-width="1.2"/>
<text transform="translate(417.30,413.40) rotate(0.04)" text-anchor="end" class="tk">100</text>
<line x1="417.4" y1="427.95" x2="420.2" y2="427.95" stroke="#000" stroke-width="1.2"/>
<text transform="translate(417.00,429.95) rotate(0.04)" text-anchor="end" class="tk">75</text>
<line x1="417.4" y1="444.50" x2="420.2" y2="444.50" stroke="#000" stroke-width="1.2"/>
<text transform="translate(417.00,446.50) rotate(0.04)" text-anchor="end" class="tk">50</text>
<line x1="417.4" y1="461.05" x2="420.2" y2="461.05" stroke="#000" stroke-width="1.2"/>
<text transform="translate(417.00,463.05) rotate(0.04)" text-anchor="end" class="tk">25</text>
<text transform="translate(416.80,479.60) rotate(0.04)" text-anchor="end" class="tk">0</text>
<line x1="432.3" y1="477.6" x2="432.3" y2="480.6" stroke="#000" stroke-width="1.2"/>
<line x1="456.8" y1="477.6" x2="456.8" y2="480.6" stroke="#000" stroke-width="1.2"/>
<line x1="481.4" y1="477.6" x2="481.4" y2="480.6" stroke="#000" stroke-width="1.2"/>
<line x1="506.2" y1="477.6" x2="506.2" y2="480.6" stroke="#000" stroke-width="1.2"/>
<line x1="423.7" y1="460.5" x2="441.2" y2="460.5" stroke="#000" stroke-width="1.5"/>
<circle cx="432.50" cy="413.25" r="1.22"/>
<circle cx="436.25" cy="458.75" r="1.22"/>
<circle cx="432.50" cy="462.00" r="1.22"/>
<circle cx="428.75" cy="468.75" r="1.22"/>
<circle cx="432.50" cy="470.50" r="1.22"/>
<circle cx="436.25" cy="472.50" r="1.22"/>
<circle cx="432.50" cy="460.00" r="1.22"/>
<line x1="448" y1="441.2" x2="466.2" y2="441.2" stroke="#000" stroke-width="1.5"/>
<circle cx="457.00" cy="418.25" r="1.22"/>
<circle cx="457.00" cy="425.00" r="1.22"/>
<circle cx="453.00" cy="433.75" r="1.22"/>
<circle cx="457.00" cy="435.50" r="1.22"/>
<circle cx="457.00" cy="440.50" r="1.22"/>
<circle cx="457.00" cy="459.50" r="1.22"/>
<line x1="473" y1="443.7" x2="490.5" y2="443.7" stroke="#000" stroke-width="1.5"/>
<circle cx="481.75" cy="425.00" r="1.22"/>
<circle cx="485.50" cy="424.50" r="1.22"/>
<circle cx="481.75" cy="440.75" r="1.22"/>
<circle cx="478.00" cy="453.75" r="1.22"/>
<circle cx="485.50" cy="453.25" r="1.22"/>
<circle cx="481.75" cy="455.00" r="1.22"/>
<circle cx="483.75" cy="454.25" r="1.22"/>
<line x1="498" y1="461.2" x2="515" y2="461.2" stroke="#000" stroke-width="1.5"/>
<circle cx="506.25" cy="437.50" r="1.22"/>
<circle cx="506.25" cy="441.25" r="1.22"/>
<circle cx="502.50" cy="467.50" r="1.22"/>
<circle cx="506.25" cy="468.00" r="1.22"/>
<circle cx="511.25" cy="465.50" r="1.22"/>
<circle cx="510.00" cy="473.00" r="1.22"/>
<circle cx="507.50" cy="466.75" r="1.22"/>
<text transform="translate(401.4,443.0) rotate(-90)" text-anchor="middle" class="yl2">% CD45.1+ GFP+</text>
<text transform="translate(430.60,495.90) rotate(-45)" y="3.01" text-anchor="middle" class="xr">G9-14</text>
<text transform="translate(455.10,495.90) rotate(-45)" y="3.01" text-anchor="middle" class="xr">G48-14</text>
<text transform="translate(479.70,495.90) rotate(-45)" y="3.01" text-anchor="middle" class="xr">G9-168</text>
<text transform="translate(504.50,495.90) rotate(-45)" y="3.01" text-anchor="middle" class="xr">G48-168</text>
<line x1="26.2" y1="518" x2="256.9" y2="518" stroke="#000" stroke-width="1.9"/>
<line x1="287.5" y1="518" x2="521" y2="518" stroke="#000" stroke-width="1.9"/>
<text transform="translate(132.2,530.4) rotate(0.04)" text-anchor="middle" class="bt" style="letter-spacing:-0.12px">spleen</text>
<text transform="translate(401.7,530.4) rotate(0.04)" text-anchor="middle" class="bt" style="letter-spacing:0.3px">bone marrow</text>
<text transform="translate(1.85,11.0) rotate(0.04) scale(1.05,1)" class="pl">A</text>
<text transform="translate(1.35,145.85) rotate(0.04) scale(1.05,1)" class="pl">B</text>
<text transform="translate(1.45,271.9) rotate(0.04) scale(1.05,1)" class="pl">C</text>
<text transform="translate(0.05,402.65) rotate(0.04) scale(1.05,1)" class="pl">D</text>
<text transform="translate(129.95,401.75) rotate(0.04) scale(1.05,1)" class="pl">E</text>
<text transform="translate(261.85,402.4) rotate(0.04) scale(1.05,1)" class="pl">F</text>
<text transform="translate(394.15,401.9) rotate(0.04) scale(1.05,1)" class="pl">G</text>
</svg>
</body></html>
